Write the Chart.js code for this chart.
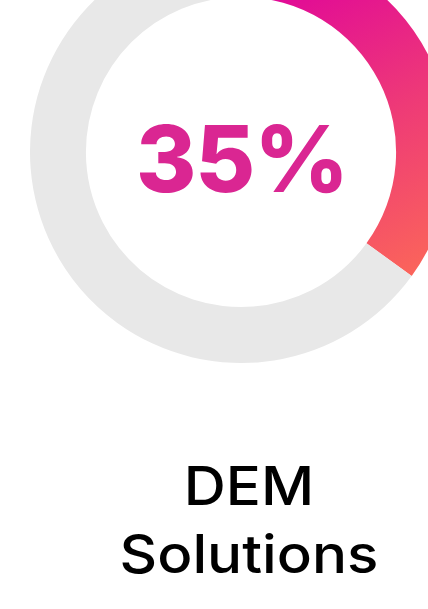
<!DOCTYPE html>
<html>
<head>
<meta charset="utf-8">
<script src="https://cdn.jsdelivr.net/npm/chart.js@4"></script>
<style>
  html, body { margin: 0; padding: 0; background: #fff; overflow: hidden; }
  body { width: 428px; height: 609px; position: relative; }
  #wrap { position: absolute; left: 30px; top: -59px; width: 422px; height: 422px; }
  #pct { position: absolute; left: 1px; width: 482px; top: 104px; text-align: center;
         font-family: Inter, sans-serif; font-weight: 800; font-size: 92px; line-height: 110px;
         color: #da2692; letter-spacing: -1px; }
  #title { position: absolute; left: 3px; width: 492px; top: 452px; text-align: center;
           font-family: Inter, sans-serif; font-weight: 500; font-size: 53px; line-height: 68px;
           color: #000; transform: scaleX(1.1); transform-origin: 246px 0; }
</style>
</head>
<body>
<div id="wrap"><canvas id="donut"></canvas></div>
<div id="pct"></div>
<div id="title">DEM<br>Solutions</div>
<script>
// share of DEM solutions
const labels = ["DEM Solutions", "Other"];
const values = [35, 65];

document.getElementById("pct").textContent = values[0] + "%";

function arcFill(context) {
  const chart = context.chart;
  if (context.dataIndex !== 0) return "#e8e8e8";
  const g = chart.ctx.createLinearGradient(245, 40, 400, 340);
  g.addColorStop(0, "#e0059a");
  g.addColorStop(0.5, "#ee3a77");
  g.addColorStop(1, "#fc6858");
  return g;
}

const donut = new Chart("donut", {
  type: "doughnut",
  data: {
    labels: labels,
    datasets: [{
      data: values,
      backgroundColor: arcFill,
      borderWidth: 0,
      hoverOffset: 0
    }]
  },
  options: {
    responsive: true,
    maintainAspectRatio: false,
    animation: false,
    cutout: "73.5%",
    layout: { padding: 0 },
    plugins: { legend: { display: false }, tooltip: { enabled: false } }
  }
});
</script>
</body>
</html>
